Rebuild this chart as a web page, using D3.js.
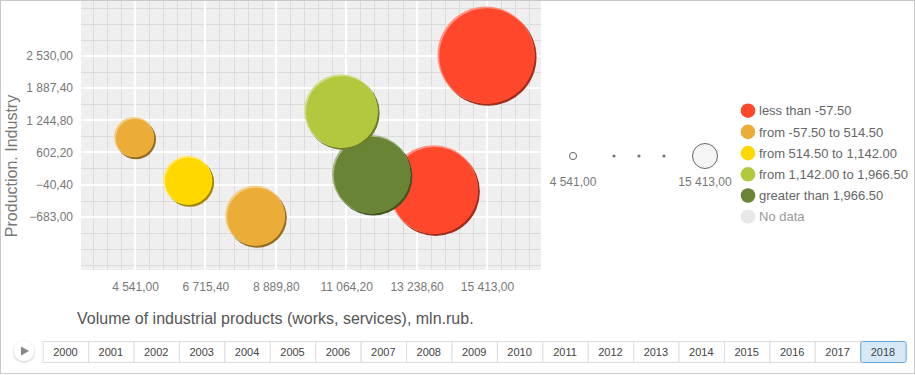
<!DOCTYPE html>
<html lang="en">
<head>
<meta charset="UTF-8">
<title>Bubble chart</title>
<script src="https://d3js.org/d3.v7.min.js"></script>
<style>
    body { margin: 0; background: #fff; }
    svg { display: block; font-family: "Liberation Sans", Arial, sans-serif; }
</style>
</head>
<body>
<svg width="915" height="375"></svg>
<script>
    // data
    const xVals = [4541, 6200, 8278, 13795, 11867, 10931, 15413];
    const yVals = [888, 26, -683, -160, 146, 1411, 2530];
    const sizeVals = [4541, 6200, 8278, 13795, 11867, 10931, 15413];
    const colorVals = [300, 800, 250, -300, 2400, 1500, -500];

    const xTicks = [4541.0, 6715.4, 8889.8, 11064.2, 13238.6, 15413.0];
    const yTicks = [-683.0, -40.4, 602.2, 1244.8, 1887.4, 2530.0];

    const thresholds = [-57.5, 514.5, 1142, 1966.5];
    const palette = ["#ff472b", "#ebad37", "#ffd800", "#b3c83e", "#698435"];
    const legendLabels = ["less than -57.50", "from -57.50 to 514.50", "from 514.50 to 1,142.00",
        "from 1,142.00 to 1,966.50", "greater than 1,966.50", "No data"];
    const years = d3.range(2000, 2019);
    const selectedYear = 2018;

    const svg = d3.select("svg");
    const fmt = v => d3.format(",.2f")(v).replace(/,/g, " ").replace(".", ",");

    // outer frame
    svg.append("rect").attr("x", 0.5).attr("y", 0.5).attr("width", 914).attr("height", 373)
        .attr("fill", "#fff").attr("stroke", "#c8c8c8");

    const plot = { left: 81, right: 541, top: 1, bottom: 270 };
    const x = d3.scaleLinear().domain([2873, 17081]).range([plot.left, plot.right]);
    const y = d3.scaleLinear().domain([-1750, 3630]).range([plot.bottom, plot.top]);
    const r = d3.scaleLinear().domain([4541, 15413]).range([21, 49.5]);
    const color = d3.scaleThreshold().domain(thresholds).range(palette);

    svg.append("rect").attr("x", plot.left).attr("y", plot.top)
        .attr("width", plot.right - plot.left).attr("height", plot.bottom - plot.top)
        .attr("fill", "#efefef");

    // minor grid
    const xStep = xTicks[1] - xTicks[0], yStep = yTicks[1] - yTicks[0];
    const xMinor = d3.range(-10, 40).map(i => xTicks[0] + i * xStep / 5).filter(v => x(v) > plot.left + 1 && x(v) < plot.right);
    const yMinor = d3.range(-10, 30).map(i => yTicks[0] + i * yStep / 2).filter(v => y(v) > plot.top + 1 && y(v) < plot.bottom);
    const grid = svg.append("g");
    grid.selectAll(".xm").data(xMinor).join("line")
        .attr("x1", d => Math.round(x(d)) + 0.5).attr("x2", d => Math.round(x(d)) + 0.5)
        .attr("y1", plot.top).attr("y2", plot.bottom).attr("stroke", "#dbdbdb");
    grid.selectAll(".ym").data(yMinor).join("line")
        .attr("y1", d => Math.round(y(d)) + 0.5).attr("y2", d => Math.round(y(d)) + 0.5)
        .attr("x1", plot.left).attr("x2", plot.right).attr("stroke", "#dbdbdb");
    // major grid
    grid.selectAll(".xM").data(xTicks).join("line")
        .attr("x1", d => Math.round(x(d))).attr("x2", d => Math.round(x(d)))
        .attr("y1", plot.top).attr("y2", plot.bottom).attr("stroke", "#fff").attr("stroke-width", 2);
    grid.selectAll(".yM").data(yTicks).join("line")
        .attr("y1", d => Math.round(y(d))).attr("y2", d => Math.round(y(d)))
        .attr("x1", plot.left).attr("x2", plot.right).attr("stroke", "#fff").attr("stroke-width", 2);

    // axes (labels only)
    const xAxis = svg.append("g").attr("transform", `translate(0,${plot.bottom})`)
        .call(d3.axisBottom(x).tickValues(xTicks).tickFormat(fmt).tickSize(0).tickPadding(12));
    const yAxis = svg.append("g").attr("transform", `translate(${plot.left},0)`)
        .call(d3.axisLeft(y).tickValues(yTicks).tickFormat(fmt).tickSize(0).tickPadding(8));
    [xAxis, yAxis].forEach(a => {
        a.select(".domain").remove();
        a.selectAll("text").attr("fill", "#777").attr("font-size", 12)
            .attr("font-family", "'Liberation Sans', Arial, sans-serif");
    });

    svg.append("text").attr("transform", "translate(17,166) rotate(-90)")
        .attr("text-anchor", "middle").attr("font-size", 16).attr("fill", "#777")
        .text("Production. Industry");
    svg.append("text").attr("x", 77).attr("y", 324)
        .attr("font-size", 16).attr("fill", "#555")
        .text("Volume of industrial products (works, services), mln.rub.");

    // bubbles
    const bubbles = xVals.map((v, i) => ({ x: v, y: yVals[i], s: sizeVals[i], c: colorVals[i] }));
    const bg = svg.append("g");
    bubbles.forEach(d => {
        const cx = x(d.x), cy = y(d.y), rr = r(d.s), c = color(d.c);
        const g = bg.append("g");
        g.append("circle").attr("cx", cx + 1).attr("cy", cy + 1.2).attr("r", rr - 1)
            .attr("fill", d3.color(c).darker(1.3));
        g.append("circle").attr("cx", cx - 1).attr("cy", cy - 1).attr("r", rr - 1)
            .attr("fill", d3.interpolateRgb(c, "#fff")(0.4));
        g.append("circle").attr("cx", cx).attr("cy", cy).attr("r", rr - 1.8).attr("fill", c);
    });

    // size legend
    const sl = svg.append("g").attr("fill", "#777");
    sl.append("circle").attr("cx", 573).attr("cy", 156).attr("r", 3.6)
        .attr("fill", "#fafafa").attr("stroke", "#666");
    [614, 639, 664].forEach(px => sl.append("circle").attr("cx", px).attr("cy", 156).attr("r", 1.6).attr("fill", "#777"));
    sl.append("circle").attr("cx", 705).attr("cy", 156).attr("r", 12.5)
        .attr("fill", "#f5f5f5").attr("stroke", "#666");
    sl.append("text").attr("x", 573).attr("y", 186).attr("text-anchor", "middle")
        .attr("font-size", 12).text(fmt(d3.min(sizeVals)));
    sl.append("text").attr("x", 705).attr("y", 186).attr("text-anchor", "middle")
        .attr("font-size", 12).text(fmt(d3.max(sizeVals)));

    // colour legend
    const legColors = palette.concat(["#e8e8e8"]);
    const leg = svg.append("g").selectAll("g").data(legendLabels).join("g")
        .attr("transform", (d, i) => `translate(748,${110.7 + i * 21.2})`);
    leg.append("circle").attr("r", 7.3).attr("fill", (d, i) => legColors[i]);
    leg.append("text").attr("x", 11).attr("y", 4.6).attr("font-size", 13)
        .attr("fill", (d, i) => i === 5 ? "#999" : "#666").text(d => d);

    // timeline
    const sh = svg.append("defs").append("filter").attr("id", "sh")
        .attr("x", "-50%").attr("y", "-50%").attr("width", "200%").attr("height", "200%");
    sh.append("feDropShadow").attr("dx", 0).attr("dy", 1).attr("stdDeviation", 1.5)
        .attr("flood-color", "#000").attr("flood-opacity", 0.25);
    svg.append("circle").attr("cx", 24).attr("cy", 351).attr("r", 10)
        .attr("fill", "#fff").attr("filter", "url(#sh)");
    svg.append("path").attr("d", "M21,346.5 L29,351 L21,355.5 Z").attr("fill", "#888");

    const tx = d3.scaleBand().domain(years).range([42.7, 905.7]);
    const cells = svg.append("g").selectAll("g").data(years).join("g")
        .attr("transform", d => `translate(${tx(d)},341)`);
    cells.append("rect").attr("x", 0.5).attr("y", 0.5)
        .attr("width", tx.bandwidth()).attr("height", 21)
        .attr("fill", d => d === selectedYear ? "#d6e9f8" : "#fff")
        .attr("stroke", d => d === selectedYear ? "#6aa6d8" : "#dedede")
        .attr("rx", d => d === selectedYear ? 2 : 0);
    cells.append("text").attr("x", tx.bandwidth() / 2).attr("y", 15)
        .attr("text-anchor", "middle").attr("font-size", 11).attr("fill", "#444").text(d => d);
    cells.filter(d => d === selectedYear).raise();
</script>
</body>
</html>
